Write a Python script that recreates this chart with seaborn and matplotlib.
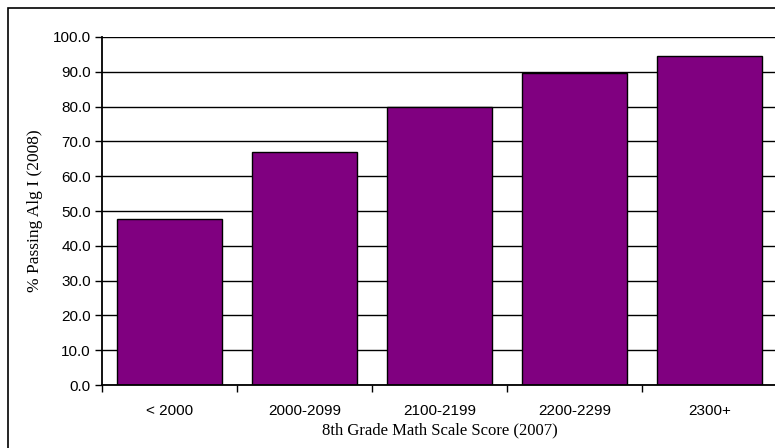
import matplotlib
matplotlib.use("Agg")
import matplotlib.pyplot as plt
from matplotlib.patches import Rectangle
from matplotlib.ticker import FixedLocator, NullFormatter
import seaborn as sns
import pandas as pd

# Score bands (2007) and share passing Algebra I (2008)
categories = ["< 2000", "2000-2099", "2100-2199", "2200-2299", "2300+"]
pct_passing = [47.7, 67.0, 80.0, 89.6, 94.6]
y_ticks = [0, 10, 20, 30, 40, 50, 60, 70, 80, 90, 100]

df = pd.DataFrame({"band": categories, "pct": pct_passing})

sns.set_theme(style="white")
plt.rcParams["font.family"] = ["Liberation Sans Narrow", "Liberation Sans", "DejaVu Sans"]
plt.rcParams["text.color"] = "black"
plt.rcParams["axes.labelcolor"] = "black"
plt.rcParams["xtick.color"] = "black"
plt.rcParams["ytick.color"] = "black"

W, H = 775, 448
fig = plt.figure(figsize=(W / 100, H / 100), dpi=100)
fig.patch.set_facecolor("white")

# outer chart frame (runs off the right and bottom edges)
fig.patches.append(Rectangle((8 / W, -0.1), 1.2, (H - 8) / H + 0.1,
                             transform=fig.transFigure, fill=False,
                             edgecolor="black", linewidth=1.2))

ax = fig.add_axes([102 / W, (H - 385) / H, 675 / W, 348 / H])
ax.set_axisbelow(True)

sns.barplot(data=df, x="band", y="pct", ax=ax, color="#800080",
            saturation=1, width=0.78, edgecolor="black", linewidth=1.0)

ax.set_xlim(-0.5, len(categories) - 0.5)
ax.set_ylim(0, 100)

ax.set_yticks(y_ticks)
ax.set_yticklabels([f"{v:.1f}" for v in y_ticks], fontsize=11)
ax.yaxis.grid(True, color="black", linewidth=1.0)
ax.xaxis.grid(False)

# category separators as major ticks, labels on minor ticks at centres
ax.xaxis.set_major_locator(FixedLocator([i - 0.5 for i in range(len(categories) + 1)]))
ax.xaxis.set_major_formatter(NullFormatter())
ax.xaxis.set_minor_locator(FixedLocator(list(range(len(categories)))))
ax.set_xticklabels(categories, minor=True, fontsize=11)
ax.tick_params(axis="x", which="major", direction="out", length=5, width=1, color="black", bottom=True)
ax.tick_params(axis="x", which="minor", length=0, pad=14)
ax.tick_params(axis="y", direction="out", length=5, width=1, color="black", left=True, pad=3)

for side in ["top", "right"]:
    ax.spines[side].set_visible(False)
for side in ["left", "bottom"]:
    ax.spines[side].set_color("black")
    ax.spines[side].set_linewidth(1.3)

ax.set_xlabel("8th Grade Math Scale Score (2007)", family="Liberation Serif", fontsize=12, labelpad=3)
ax.set_ylabel("% Passing Alg I (2008)", family="Liberation Serif", fontsize=12.5, labelpad=7)

fig.savefig("out.png", dpi=100, facecolor="white")
